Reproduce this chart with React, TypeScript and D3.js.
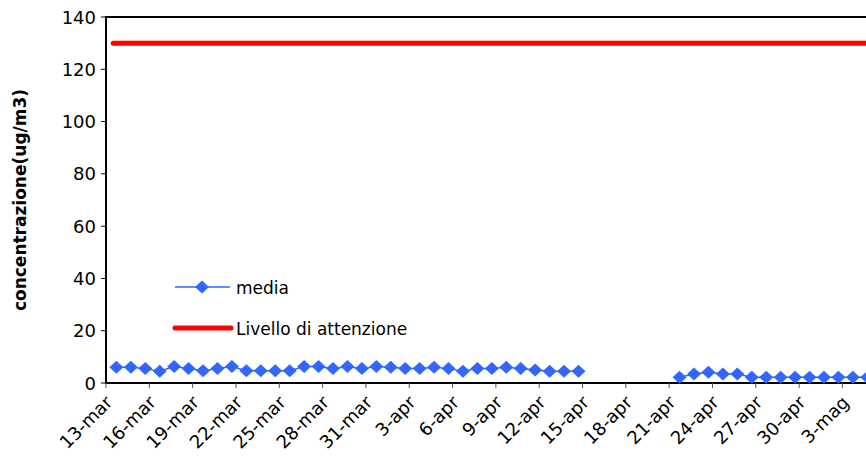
import React, { useEffect, useRef } from 'react';
import * as d3 from 'd3';

const dayCount = 53;
const tickLabels = ['13-mar', '16-mar', '19-mar', '22-mar', '25-mar', '28-mar', '31-mar', '3-apr', '6-apr', '9-apr', '12-apr', '15-apr', '18-apr', '21-apr', '24-apr', '27-apr', '30-apr', '3-mag'];
// media: one value per day from 13-mar (null = missing)
const mediaPart1 = [6, 6, 5.5, 4.5, 6.3, 5.5, 4.7, 5.5, 6.3, 4.7, 4.7, 4.7, 4.7, 6.3, 6.3, 5.5, 6.3, 5.5, 6.3, 6, 5.5, 5.5, 6, 5.5, 4.5, 5.5, 5.5, 6, 5.5, 5, 4.5, 4.5, 4.5];
const mediaGap = [null, null, null, null, null, null];
const mediaPart2 = [2.2, 3.4, 4.1, 3.4, 3.4, 2.2, 2.2, 2.2, 2.2, 2.2, 2.2, 2.2, 2.2, 2.2];
const media: (number | null)[] = [...mediaPart1, ...mediaGap, ...mediaPart2];
const livelloAttenzione = 130;
const yTicks = [0, 20, 40, 60, 80, 100, 120, 140];

const App = () => {
    const ref = useRef<SVGSVGElement>(null);

    useEffect(() => {
        const svg = d3.select(ref.current);
        svg.selectAll('*').remove();
        const font = 'Tahoma, "DejaVu Sans", sans-serif';
        const left = 106, top = 17, bottom = 383;
        const dayW = 14.44;

        const x = d3.scaleLinear().domain([0, dayCount]).range([left, left + dayCount * dayW]);
        const y = d3.scaleLinear().domain([0, 140]).range([bottom, top]);

        svg.append('rect').attr('x', left).attr('y', top)
            .attr('width', 866 - left + 10).attr('height', bottom - top)
            .attr('fill', 'white').attr('stroke', 'black').attr('stroke-width', 2);

        yTicks.forEach((t) => {
            svg.append('line').attr('x1', left - 5).attr('x2', left)
                .attr('y1', y(t)).attr('y2', y(t)).attr('stroke', '#000').attr('stroke-width', 1);
            svg.append('text').attr('x', left - 10).attr('y', y(t))
                .attr('text-anchor', 'end').attr('dominant-baseline', 'central')
                .style('font-family', font).style('font-size', '18px').text(t);
        });

        tickLabels.forEach((lab, i) => {
            const tx = x(i * 3);
            svg.append('line').attr('x1', tx).attr('x2', tx).attr('y1', bottom).attr('y2', bottom + 5)
                .attr('stroke', '#555').attr('stroke-width', 1);
            svg.append('text')
                .attr('transform', `translate(${tx + 3}, ${bottom + 16}) rotate(-45)`)
                .attr('text-anchor', 'end').attr('dominant-baseline', 'central')
                .style('font-family', font).style('font-size', '18px').text(lab);
        });

        svg.append('line').attr('x1', x(0.5)).attr('x2', 870)
            .attr('y1', y(livelloAttenzione)).attr('y2', y(livelloAttenzione))
            .attr('stroke', '#ff0000').attr('stroke-width', 5).attr('stroke-linecap', 'round');

        const blue = '#3366ff';
        const line = d3.line<number | null>()
            .defined((d) => d !== null)
            .x((_, i) => x(i + 0.72))
            .y((d) => y(d as number));
        svg.append('path').datum(media).attr('d', line)
            .attr('fill', 'none').attr('stroke', blue).attr('stroke-width', 1.5);
        const diamond = 'M-7,0L0,-6.5L7,0L0,6.5Z';
        svg.selectAll('.pt')
            .data(media.map((v, i) => ({ v, i })).filter((d) => d.v !== null))
            .enter().append('path')
            .attr('d', diamond)
            .attr('transform', (d) => `translate(${x(d.i + 0.72)}, ${y(d.v as number)})`)
            .attr('fill', blue);

        svg.append('line').attr('x1', 175).attr('x2', 230).attr('y1', 287).attr('y2', 287)
            .attr('stroke', blue).attr('stroke-width', 1.5);
        svg.append('path').attr('d', diamond).attr('transform', 'translate(202,287)').attr('fill', blue);
        svg.append('text').attr('x', 236).attr('y', 288).attr('dominant-baseline', 'central')
            .style('font-family', font).style('font-size', '17px').text('media');
        svg.append('line').attr('x1', 175).attr('x2', 231).attr('y1', 328).attr('y2', 328)
            .attr('stroke', '#ff0000').attr('stroke-width', 5).attr('stroke-linecap', 'round');
        svg.append('text').attr('x', 236).attr('y', 329).attr('dominant-baseline', 'central')
            .style('font-family', font).style('font-size', '17px').text('Livello di attenzione');

        svg.append('text')
            .attr('transform', `translate(20, ${(top + bottom) / 2}) rotate(-90)`)
            .attr('text-anchor', 'middle').attr('dominant-baseline', 'central')
            .style('font-family', font).style('font-size', '17px').style('font-weight', 'bold')
            .text('concentrazione(ug/m3)');
    }, []);

    return (
        <svg ref={ref} width={866} height={470}
            style={{ position: 'absolute', left: 0, top: 0, background: 'white' }} />
    );
};

export default App;
